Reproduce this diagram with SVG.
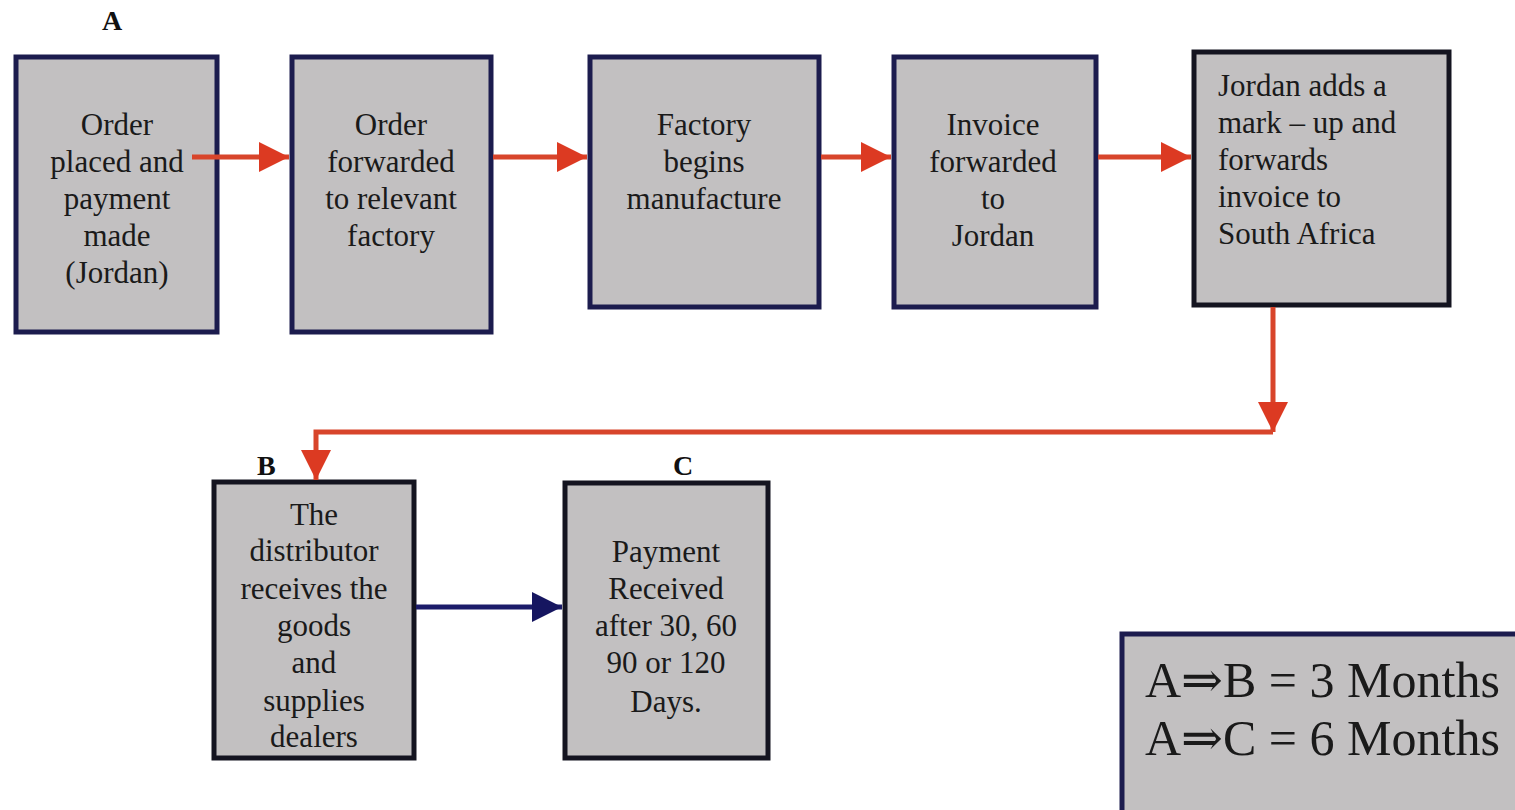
<svg xmlns="http://www.w3.org/2000/svg" width="1515" height="810" viewBox="0 0 1515 810">
<defs>
<style>
.box{fill:#c2c0c1;stroke:#1c1c4e;stroke-width:5}
.boxk{fill:#c2c0c1;stroke:#141420;stroke-width:5}
.t{font-family:"Liberation Serif","Times New Roman",serif;font-size:31px;fill:#1a1a1a;text-anchor:middle}
.tl{font-family:"Liberation Serif","Times New Roman",serif;font-size:31px;fill:#1a1a1a}
.lab{font-family:"Liberation Serif","Times New Roman",serif;font-size:28px;font-weight:bold;fill:#111}
.leg{font-family:"Liberation Serif","DejaVu Serif",serif;font-size:50px;fill:#1a1a1a}
.red{stroke:#d8452b;stroke-width:5;fill:none}
.blue{stroke:#1c1c6a;stroke-width:5;fill:none}
</style>
<marker id="ar" viewBox="0 0 10 10" refX="10" refY="5" markerWidth="6" markerHeight="6.4" markerUnits="strokeWidth" orient="auto">
<path d="M0,0 L10,5 L0,10 Z" fill="#dc3a22"/>
</marker>
<marker id="ab" viewBox="0 0 10 10" refX="10" refY="5" markerWidth="6" markerHeight="7" markerUnits="strokeWidth" orient="auto">
<path d="M0,0 L10,5 L0,10 Z" fill="#161660"/>
</marker>
</defs>

<g id="label-A"><text class="lab" x="102" y="30">A</text></g>
<g id="label-B"><text class="lab" x="257" y="475">B</text></g>
<g id="label-C"><text class="lab" x="673" y="475">C</text></g>

<g id="n1">
<rect class="box" x="16" y="57" width="201" height="275"/>
<text class="t" x="117" y="135">Order</text>
<text class="t" x="117" y="172">placed and</text>
<text class="t" x="117" y="209">payment</text>
<text class="t" x="117" y="246">made</text>
<text class="t" x="117" y="283">(Jordan)</text>
</g>

<g id="n2">
<rect class="box" x="292" y="57" width="199" height="275"/>
<text class="t" x="391" y="135">Order</text>
<text class="t" x="391" y="172">forwarded</text>
<text class="t" x="391" y="209">to relevant</text>
<text class="t" x="391" y="246">factory</text>
</g>

<g id="n3">
<rect class="box" x="590" y="57" width="229" height="250"/>
<text class="t" x="704" y="135">Factory</text>
<text class="t" x="704" y="172">begins</text>
<text class="t" x="704" y="209">manufacture</text>
</g>

<g id="n4">
<rect class="box" x="894" y="57" width="202" height="250"/>
<text class="t" x="993" y="135">Invoice</text>
<text class="t" x="993" y="172">forwarded</text>
<text class="t" x="993" y="209">to</text>
<text class="t" x="993" y="246">Jordan</text>
</g>

<g id="n5">
<rect class="boxk" x="1194" y="52" width="255" height="253"/>
<text class="tl" x="1218" y="96">Jordan adds a</text>
<text class="tl" x="1218" y="133">mark – up and</text>
<text class="tl" x="1218" y="170">forwards</text>
<text class="tl" x="1218" y="207">invoice to</text>
<text class="tl" x="1218" y="244">South Africa</text>
</g>

<g id="nB">
<rect class="boxk" x="214" y="482" width="200" height="276"/>
<text class="t" x="314" y="525">The</text>
<text class="t" x="314" y="561">distributor</text>
<text class="t" x="314" y="599">receives the</text>
<text class="t" x="314" y="636">goods</text>
<text class="t" x="314" y="673">and</text>
<text class="t" x="314" y="711">supplies</text>
<text class="t" x="314" y="747">dealers</text>
</g>

<g id="nC">
<rect class="boxk" x="565" y="483" width="203" height="275"/>
<text class="t" x="666" y="562">Payment</text>
<text class="t" x="666" y="599">Received</text>
<text class="t" x="666" y="636">after 30, 60</text>
<text class="t" x="666" y="673">90 or 120</text>
<text class="t" x="666" y="712">Days.</text>
</g>

<g id="legend">
<rect class="box" x="1122" y="634" width="400" height="180"/>
<text class="leg" x="1145" y="697">A⇒B = 3 Months</text>
<text class="leg" x="1145" y="755">A⇒C = 6 Months</text>
</g>

<g id="connectors">
<line class="red" x1="192" y1="157" x2="289" y2="157" marker-end="url(#ar)"/>
<line class="red" x1="493" y1="157" x2="587" y2="157" marker-end="url(#ar)"/>
<line class="red" x1="821" y1="157" x2="891" y2="157" marker-end="url(#ar)"/>
<line class="red" x1="1098" y1="157" x2="1191" y2="157" marker-end="url(#ar)"/>
<line class="red" x1="1273" y1="307" x2="1273" y2="432" marker-end="url(#ar)"/>
<polyline class="red" points="1273,432 316,432 316,480" marker-end="url(#ar)"/>
<line class="blue" x1="416" y1="607" x2="562" y2="607" marker-end="url(#ab)"/>
</g>
</svg>
